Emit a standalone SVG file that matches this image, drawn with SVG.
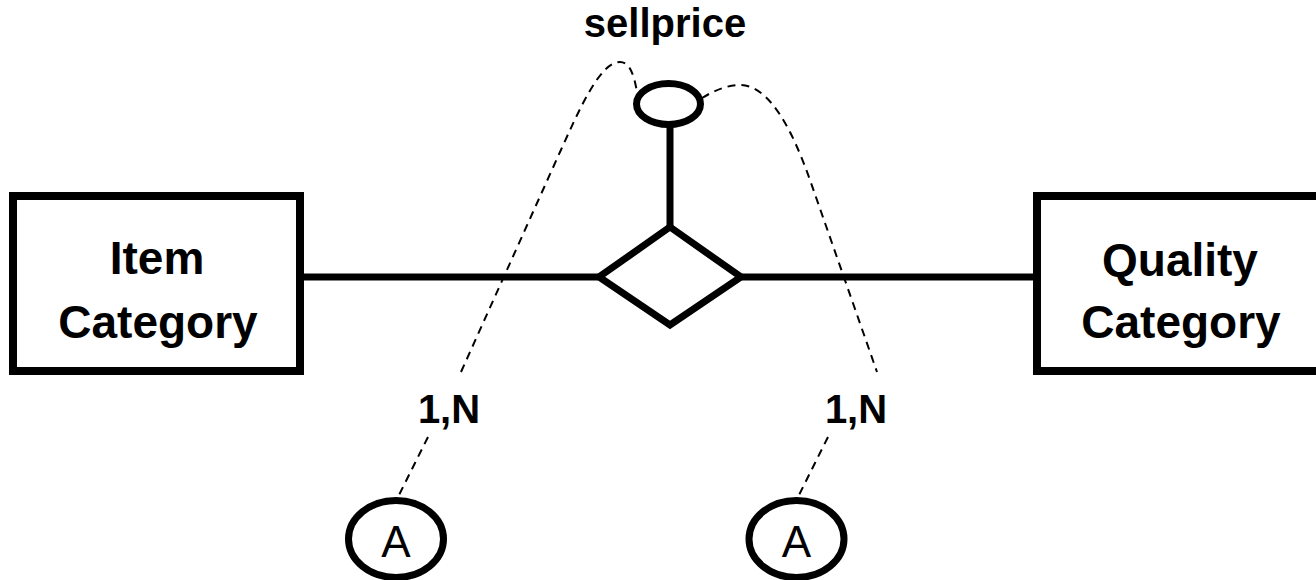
<svg xmlns="http://www.w3.org/2000/svg" width="1316" height="580" viewBox="0 0 1316 580">
<style>
.ent{fill:#fff;stroke:#000;stroke-width:8}
.shape{fill:#fff;stroke:#000;stroke-width:7}
.line{fill:none;stroke:#000;stroke-width:7}
.dash{fill:none;stroke:#000;stroke-width:2;stroke-dasharray:8,6}
.lbl{font-family:"Liberation Sans",Arial,sans-serif;font-weight:bold;fill:#000;text-anchor:middle}
.reg{font-family:"Liberation Sans",Arial,sans-serif;fill:#000;text-anchor:middle}
</style>
<rect width="1316" height="580" fill="#fff"/>
<g id="connectors">
<line class="line" x1="300" y1="277" x2="598" y2="277"/>
<line class="line" x1="742" y1="277" x2="1037" y2="277"/>
<line class="line" x1="670" y1="126" x2="670" y2="227"/>
<path class="dash" d="M461,372 L560,152 C580,108 600,62 620,62 C630,62 634,75 637,92"/>
<path class="dash" d="M702,98 C715,90 728,85 740,85 C770,85 793,132 810,180 L877,372"/>
<line class="dash" x1="428" y1="437" x2="399" y2="495"/>
<line class="dash" x1="828" y1="437" x2="799" y2="495"/>
</g>
<g id="item-category">
<rect class="ent" x="13" y="196" width="287" height="175"/>
<text class="lbl" x="157" y="274" font-size="46">Item</text>
<text class="lbl" x="158" y="338" font-size="46">Category</text>
</g>
<g id="quality-category">
<rect class="ent" x="1037" y="196" width="300" height="175"/>
<text class="lbl" x="1180" y="276" font-size="46">Quality</text>
<text class="lbl" x="1181" y="338" font-size="46">Category</text>
</g>
<g id="relationship">
<polygon class="shape" points="670,227 741,277 670,325 599,277"/>
</g>
<g id="sellprice">
<ellipse class="shape" cx="668.5" cy="104" rx="32" ry="20.5"/>
<text class="lbl" x="665" y="37" font-size="40">sellprice</text>
</g>
<g id="card-left">
<text class="lbl" x="449" y="423" font-size="40">1,N</text>
</g>
<g id="card-right">
<text class="lbl" x="856" y="423" font-size="40">1,N</text>
</g>
<g id="a-left">
<ellipse class="shape" cx="396" cy="539" rx="47.5" ry="38.5"/>
<text class="reg" x="396" y="557" font-size="44">A</text>
</g>
<g id="a-right">
<ellipse class="shape" cx="796.5" cy="539" rx="47.5" ry="38.5"/>
<text class="reg" x="796.5" y="557" font-size="44">A</text>
</g>
</svg>
